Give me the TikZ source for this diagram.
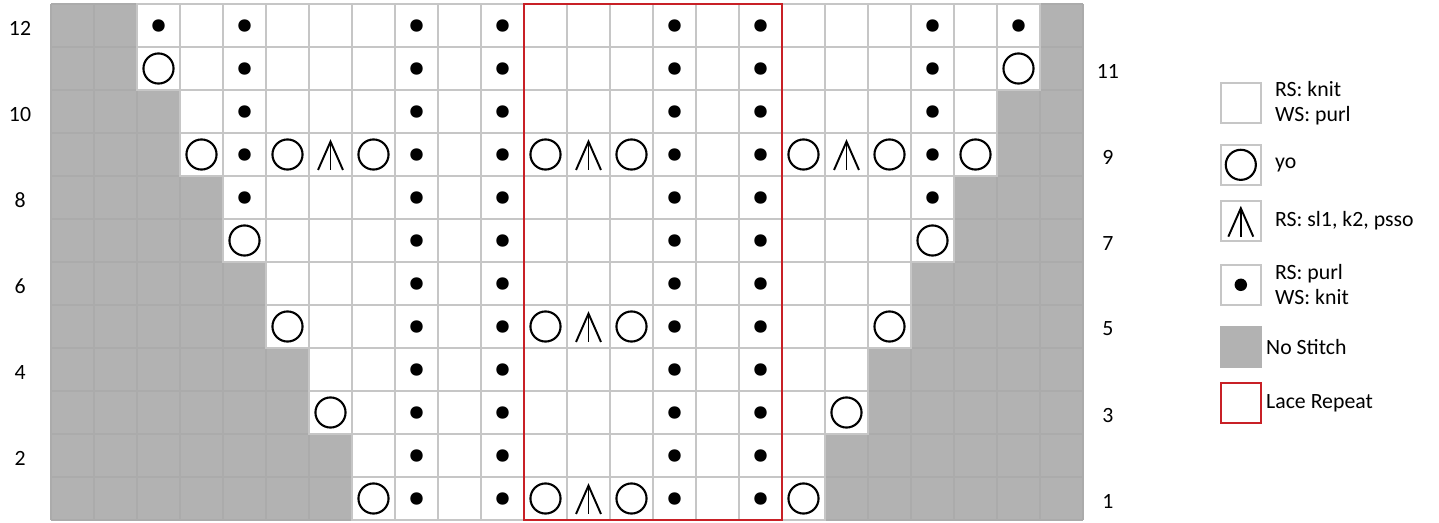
\documentclass[tikz,border=0pt]{standalone}
\usepackage{fontspec}
\setmainfont{Carlito}
\usepackage{xcolor}
\usepackage{tikz}
\usetikzlibrary{positioning}

\definecolor{repeatred}{RGB}{200,32,38}

\begin{document}
\begin{tikzpicture}[x=0.86cm, y=0.86cm,
    every node/.style={font=\fontsize{12.4}{14.2}\selectfont},
    nostitch/.style={fill=black!30},
    nostitchline/.style={draw=black!33, line width=0.8pt},
    stitch/.style={fill=white, draw=gray!45, line width=1.3pt},
    purldot/.style={fill=black},
    yoring/.style={draw=black, line width=1.2pt},
    skline/.style={draw=black, line width=1.1pt},
    rownum/.style={inner sep=0pt},
    keybox/.style={draw=gray!45, fill=white, line width=1.3pt, minimum size=0.8cm, inner sep=0pt, outer sep=0pt},
    keytext/.style={inner sep=0pt, align=left, anchor=west}]
  \useasboundingbox (-1.186,-0.047) rectangle (32.279,12.093);

  % No stitch background
  \fill[nostitch] (0,0) rectangle (24,12);
  \draw[nostitchline, step=0.86cm] (0,0) grid (24,12);

  % Stitch cells: row/first col/last col
  \foreach \r/\a/\b in {12/2/22, 11/2/22, 10/3/21, 9/3/21, 8/4/20, 7/4/20,
                        6/5/19, 5/5/19, 4/6/18, 3/6/18, 2/7/17, 1/7/17} {
    \foreach \c in {\a,...,\b}
      \draw[stitch] (\c,\r-1) rectangle ++(1,1);
  }

  % Purl columns
  \foreach \r in {1,...,12} {
    \foreach \c in {8,10,14,16}
      \fill[purldot] (\c+0.5,\r-0.5) circle (0.145);
  }
  \foreach \c/\r in {2/12, 4/12, 20/12, 22/12, 4/11, 20/11, 4/10, 20/10,
                     4/9, 20/9, 4/8, 20/8}
    \fill[purldot] (\c+0.5,\r-0.5) circle (0.145);

  % Yarn overs
  \foreach \c/\r in {2/11, 22/11, 3/9, 5/9, 7/9, 11/9, 13/9, 17/9, 19/9, 21/9,
                     4/7, 20/7, 5/5, 11/5, 13/5, 19/5, 6/3, 18/3,
                     7/1, 11/1, 13/1, 17/1}
    \draw[yoring] (\c+0.5,\r-0.5) circle (0.35);

  % sl1, k2, psso
  \foreach \c/\r in {6/9, 12/9, 18/9, 12/5, 12/1} {
    \draw[skline] (\c+0.21,\r-0.86) -- (\c+0.5,\r-0.2) -- (\c+0.79,\r-0.86);
    \draw[skline] (\c+0.5,\r-0.2) -- (\c+0.5,\r-0.86);
  }

  % Lace repeat
  \draw[repeatred, line width=1.3pt] (11,0) rectangle (17,12);

  % Row numbers
  \foreach \r in {2,4,...,12}
    \node[rownum] (row\r) at (-0.72,\r-0.56) {\r};
  \foreach \r in {1,3,...,11}
    \node[rownum] (row\r) at (24.58,\r-0.56) {\r};

  % Key
  \node[keybox] (kknit) at (27.67,9.70) {};
  \node[keybox] (kyo) at (27.67,8.26) {};
  \node[keybox] (ksk) at (27.67,6.95) {};
  \node[keybox] (kpurl) at (27.67,5.47) {};
  \node[keybox, nostitch, draw=black!30] (knone) at (27.67,4.02) {};
  \node[keybox, draw=repeatred] (krep) at (27.67,2.72) {};

  \draw[yoring] (kyo.center) circle (0.35);
  \draw[skline] ([shift={(-0.29,-0.36)}]ksk.center) -- ([shift={(0,0.3)}]ksk.center)
    -- ([shift={(0.29,-0.36)}]ksk.center);
  \draw[skline] ([shift={(0,0.3)}]ksk.center) -- ([shift={(0,-0.36)}]ksk.center);
  \fill[purldot] (kpurl.center) circle (0.145);

  \node[keytext, right=2.8mm of kknit] (tknit) {RS: knit\\WS: purl};
  \node[keytext, right=2.8mm of kyo] (tyo) {yo};
  \node[keytext, right=2.8mm of ksk] (tsk) {RS: sl1, k2, psso};
  \node[keytext, right=2.8mm of kpurl] (tpurl) {RS: purl\\WS: knit};
  \node[keytext, right=1mm of knone] (tnone) {No Stitch};
  \node[keytext, right=1mm of krep] (trep) {Lace Repeat};
\end{tikzpicture}
\end{document}
